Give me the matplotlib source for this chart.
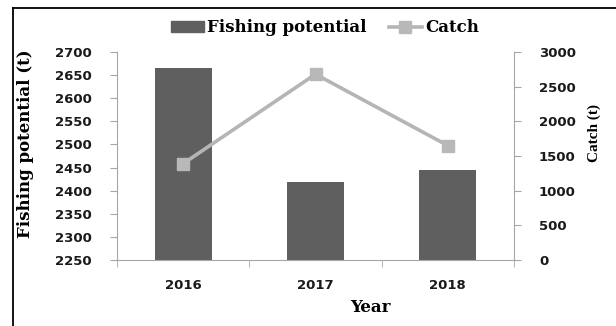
import numpy as np
import matplotlib
matplotlib.use("Agg")
import matplotlib.pyplot as plt
from matplotlib.lines import Line2D

years = ['2016', '2017', '2018']
fishing_potential = [2665, 2418, 2444]
catch = [1390, 2680, 1650]
left_ticks = [2250, 2300, 2350, 2400, 2450, 2500, 2550, 2600, 2650, 2700]
right_ticks = [0, 500, 1000, 1500, 2000, 2500, 3000]

bar_color = '#5f5f5f'
line_color = '#b5b5b5'
spine_color = '#a6a6a6'

fig = plt.figure(figsize=(6.16, 3.26), dpi=100)
ax = fig.add_axes([117/616, 1 - 260/326, (514 - 117)/616, (260 - 52)/326])
ax2 = ax.twinx()

x = np.arange(len(years))
ax.bar(x, np.array(fishing_potential) - 2250, bottom=2250, width=0.43,
       color=bar_color, label='Fishing potential')
ax2.plot(x, catch, color=line_color, lw=2.6, marker='s', ms=9,
         mfc='#b8b8b8', mec='#b8b8b8', label='Catch')

ax.set_xlim(-0.5, 2.5)
ax.set_ylim(2250, 2700)
ax2.set_ylim(0, 3000)
ax.set_yticks(left_ticks)
ax2.set_yticks(right_ticks)
ax.set_xticks(x)
ax.set_xticklabels(years)
ax.set_xticks([-0.5, 0.5, 1.5, 2.5], minor=True)

for lab in ax.get_yticklabels() + ax2.get_yticklabels() + ax.get_xticklabels():
    lab.set_fontfamily('DejaVu Sans')
    lab.set_fontsize(9.5)
    lab.set_fontweight('bold')
    lab.set_color('#1a1a1a')

ax.tick_params(axis='x', which='major', length=0, pad=14)
ax.tick_params(axis='x', which='minor', length=5, color=spine_color, direction='out')
ax.tick_params(axis='y', length=5, color=spine_color, pad=13)
ax2.tick_params(axis='y', length=5, color=spine_color, pad=13)

for a in (ax, ax2):
    a.spines['top'].set_visible(False)
    for s in ('left', 'right', 'bottom'):
        a.spines[s].set_color(spine_color)
ax.spines['right'].set_visible(False)
ax2.spines['left'].set_visible(False)
ax2.spines['bottom'].set_visible(False)

ax.set_ylabel('Fishing potential (t)', family='DejaVu Serif', weight='bold', fontsize=12)
ax.yaxis.set_label_coords(-0.209, 0.56)
ax2.set_ylabel('Catch (t)', family='Liberation Serif', weight='bold', fontsize=11)
ax2.yaxis.set_label_coords(1.186, 0.61)

fig.text(370/616, 1 - 308/326, 'Year', family='DejaVu Serif', weight='bold',
         fontsize=12, ha='center', va='center')

handles = [plt.Rectangle((0, 0), 1, 1, color=bar_color),
           Line2D([], [], color=line_color, lw=2.6, marker='s', ms=9,
                  mfc='#b8b8b8', mec='#b8b8b8')]
fig.legend(handles, ['Fishing potential', 'Catch'], loc='center',
           bbox_to_anchor=(325/616, 1 - 28/326), ncol=2, frameon=False,
           prop=dict(family='DejaVu Serif', weight='bold', size=12),
           handlelength=2.0, handleheight=0.6, handletextpad=0.2,
           columnspacing=1.3)

# outer frame (left and top edges visible)
fig.add_artist(Line2D([13/616, 13/616], [0, 1 - 8/326], color='black', lw=1.3,
                      transform=fig.transFigure))
fig.add_artist(Line2D([13/616, 1], [1 - 8/326, 1 - 8/326], color='black', lw=1.3,
                      transform=fig.transFigure))

fig.savefig('out.png', dpi=100)
